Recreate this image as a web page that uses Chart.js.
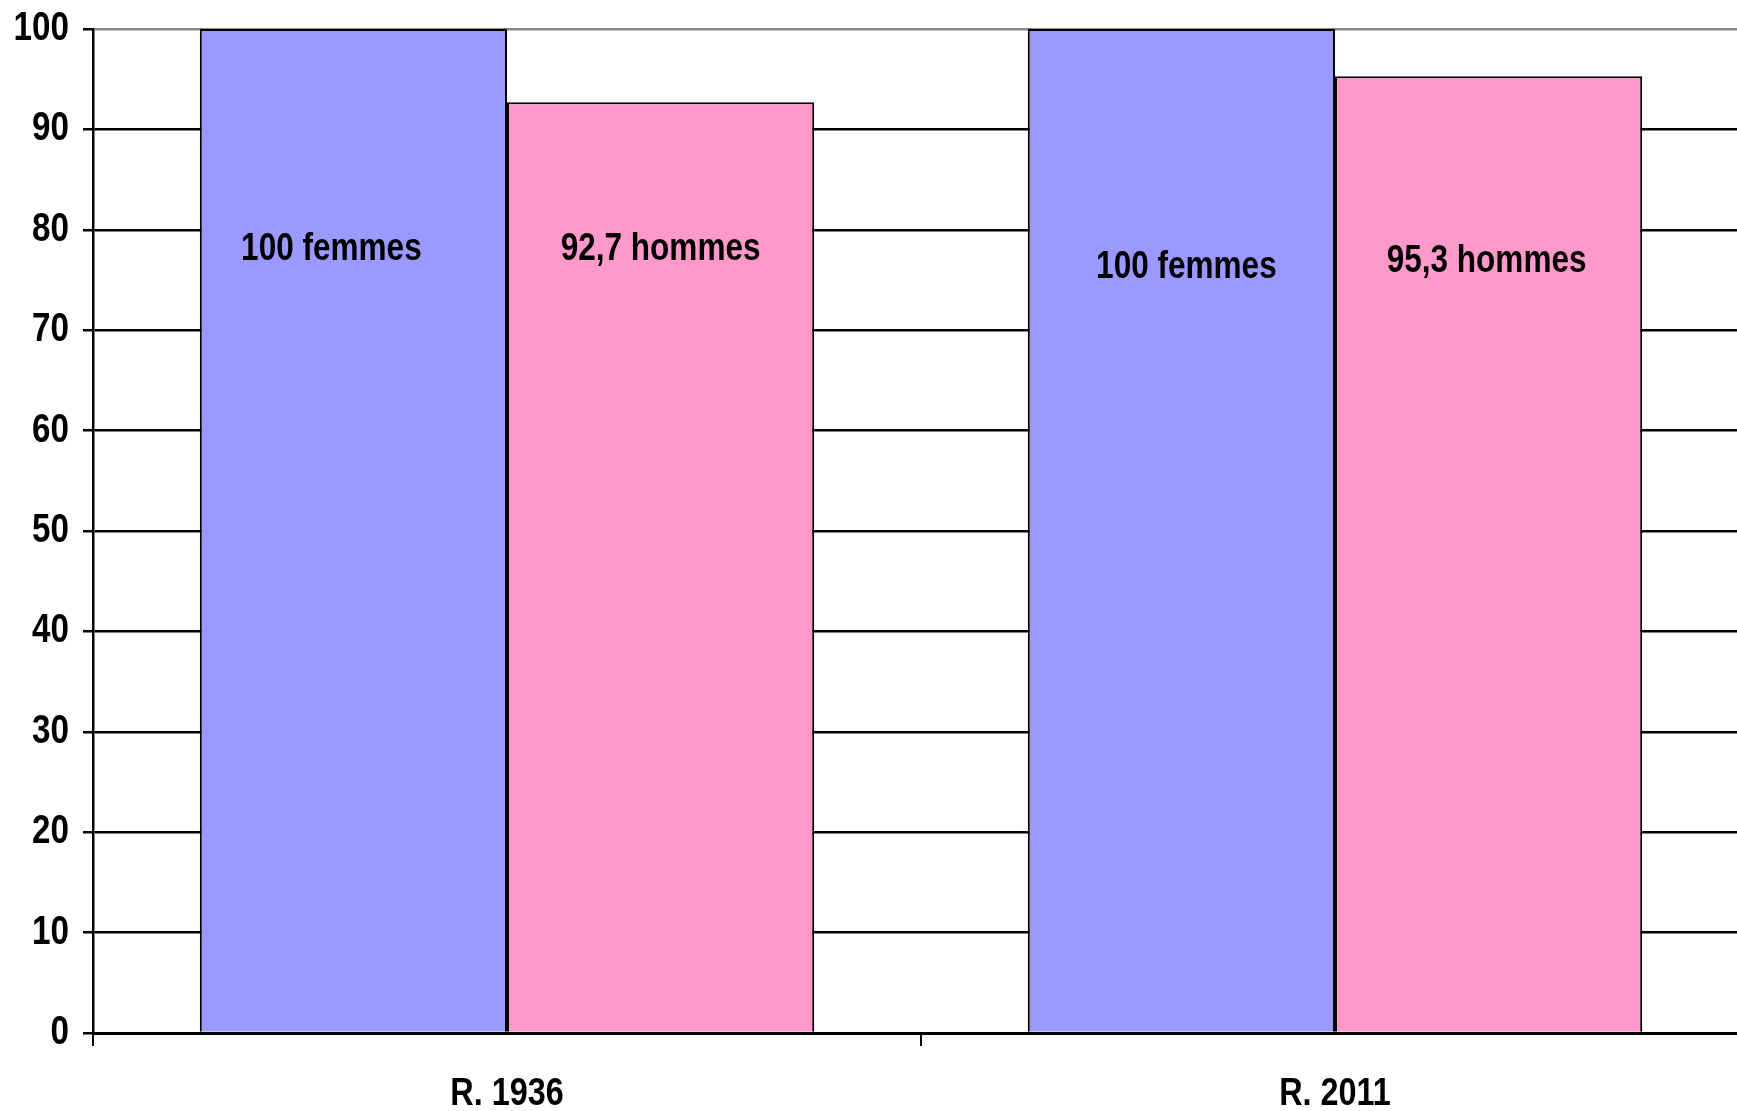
<!DOCTYPE html>
<html>
<head>
<meta charset="utf-8">
<script src="https://cdn.jsdelivr.net/npm/chart.js@4/dist/chart.umd.min.js"></script>
<style>
  html, body { margin: 0; padding: 0; background: #fff; overflow: hidden; }
  #wrap { position: relative; width: 1752px; height: 1111px; }
</style>
</head>
<body>
<div id="wrap"><canvas id="c"></canvas></div>
<script>
const categories = ['R. 1936', 'R. 2011'];
const femmes = [100, 100];
const hommes = [92.7, 95.3];
const femmesLabels = ['100 femmes', '100 femmes'];
const hommesLabels = ['92,7 hommes', '95,3 hommes'];
const yTicks = [0, 10, 20, 30, 40, 50, 60, 70, 80, 90, 100];

const FONT = '"Liberation Sans Narrow", "Arial Narrow", "Liberation Sans", Arial, sans-serif';
const NARROW = 0.83; // horizontal squeeze to imitate a narrow bold face

// label anchor (axis units) and small x shift (px) for each bar's text, per dataset
const labelAnchors = [[78.0, 76.2], [78.0, 76.8]];
const labelShift = [[-22, 5], [0, -2]];
const barTexts = [femmesLabels, hommesLabels];

// squeeze tick label text horizontally around its own anchor
const narrowTextPlugin = {
  id: 'narrowText',
  beforeDraw(chart) {
    const ctx = chart.ctx;
    if (ctx.__origRotate) return;
    ctx.__origRotate = ctx.rotate;
    ctx.rotate = function (a) { ctx.__origRotate.call(this, a); this.scale(NARROW, 1); };
  },
  afterDraw(chart) {
    const ctx = chart.ctx;
    if (ctx.__origRotate) { ctx.rotate = ctx.__origRotate; delete ctx.__origRotate; }
  }
};

const barLabelPlugin = {
  id: 'barLabels',
  afterDatasetsDraw(chart) {
    const ctx = chart.ctx;
    const y = chart.scales.y;
    chart.data.datasets.forEach((ds, di) => {
      const meta = chart.getDatasetMeta(di);
      meta.data.forEach((bar, i) => {
        ctx.save();
        ctx.fillStyle = '#000';
        ctx.font = 'bold 38px ' + FONT;
        ctx.textAlign = 'center';
        ctx.textBaseline = 'middle';
        ctx.translate(bar.x + labelShift[di][i], y.getPixelForValue(labelAnchors[di][i]));
        ctx.scale(NARROW, 1);
        ctx.fillText(barTexts[di][i], 0, 0);
        ctx.restore();
      });
    });
  }
};

new Chart(document.getElementById('c'), {
  type: 'bar',
  data: {
    labels: categories,
    datasets: [
      { label: 'femmes', data: femmes, backgroundColor: '#9999FF', borderColor: '#000', borderWidth: 2,
        barPercentage: 1, categoryPercentage: 0.742 },
      { label: 'hommes', data: hommes, backgroundColor: '#FF99CC', borderColor: '#000', borderWidth: 2,
        barPercentage: 1, categoryPercentage: 0.742 }
    ]
  },
  options: {
    responsive: true,
    maintainAspectRatio: false,
    animation: false,
    layout: { padding: { top: 29, right: 3, left: 0, bottom: 0 } },
    plugins: { legend: { display: false }, tooltip: { enabled: false } },
    scales: {
      x: {
        grid: { offset: true, drawOnChartArea: false, drawTicks: true, tickLength: 13, color: '#000', lineWidth: 2 },
        border: { color: '#000', width: 3 },
        ticks: { color: '#000', font: { family: FONT, size: 39, weight: 'bold' }, padding: 25, maxRotation: 0 },
        afterFit(s) { s.height = 78; s.paddingLeft = 0; s.paddingRight = 0; }
      },
      y: {
        min: 0, max: 100,
        afterBuildTicks(s) { s.ticks = yTicks.map(v => ({ value: v })); },
        grid: {
          color: ctx => ctx.tick && ctx.tick.value === 100 ? '#888' : '#000',
          lineWidth: 2.5, tickLength: 10, tickColor: '#000'
        },
        border: { color: '#000', width: 2.5 },
        ticks: { color: '#000', font: { family: FONT, size: 40, weight: 'bold' }, padding: 14 },
        afterFit(s) { s.width = 93; s.paddingTop = 0; s.paddingBottom = 0; }
      }
    }
  },
  plugins: [narrowTextPlugin, barLabelPlugin]
});
</script>
</body>
</html>
